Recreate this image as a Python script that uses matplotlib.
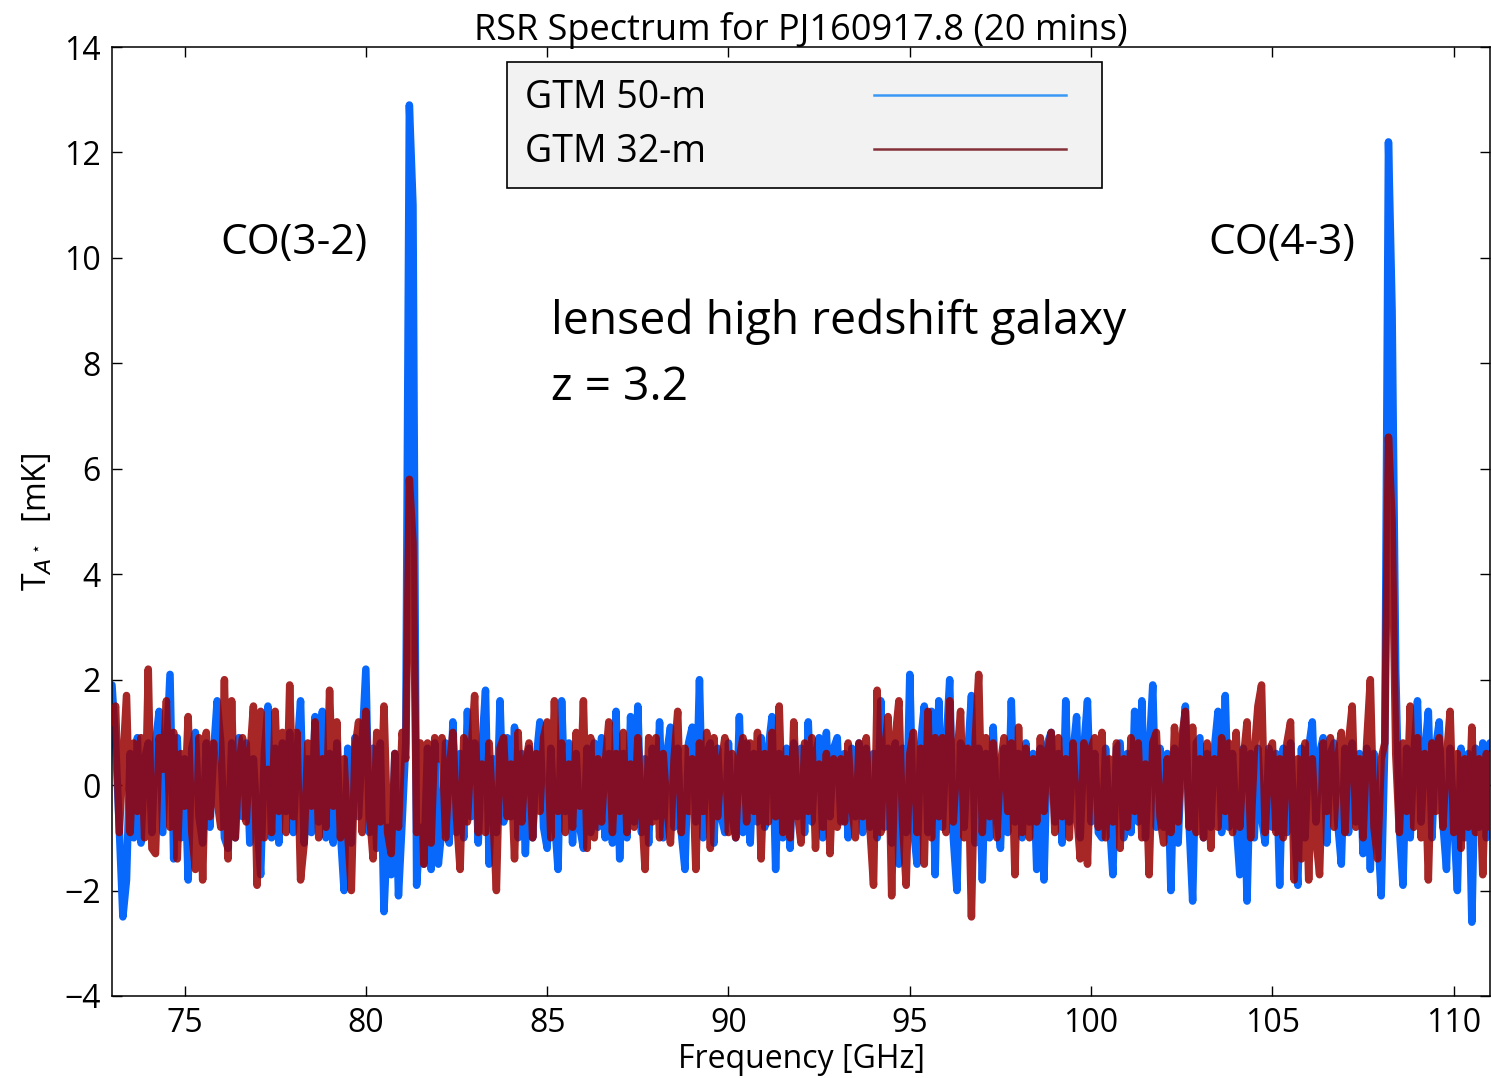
import numpy as np
import matplotlib
matplotlib.use("Agg")
import matplotlib.pyplot as plt
from matplotlib.lines import Line2D
from matplotlib.legend_handler import HandlerLine2D

# ---------------- data ----------------
f_start, f_step = 73.0, 0.1   # frequency channel grid [GHz]

# GTM 50-m antenna temperature [mK], one value per 0.1 GHz, 73.0 ... 111.0
gtm50 = [
    1.9, 0.8, -0.8, -2.5, -1.8, 0.6, -1.0, 0.9, -1.1, 0.5,      # 73
    0.8, -0.9, 0.8, 1.4, -0.9, 0.6, 2.1, -1.4, 0.9, -1.0,       # 74
    0.5, -1.8, 0.7, 1.0, -0.6, -1.1, 0.8, -0.8, 0.6, 1.6,       # 75
    0.8, -1.0, -1.2, 0.8, -1.0, 0.9, -0.6, 0.8, -1.1, 0.5,      # 76
    -0.7, -1.7, 0.6, 1.5, -1.0, 0.7, -1.1, 0.8, -0.5, 1.0,      # 77
    -0.9, 0.6, 1.6, -1.1, 0.5, -0.9, 1.3, -0.7, 1.4, -1.0,      # 78
    0.6, -1.1, 0.8, -0.9, -2.0, 0.7, -1.1, 0.9, -0.6, 0.8,      # 79
    2.2, -0.9, 0.7, -1.2, 0.8, -2.4, -0.8, -1.7, 0.6, -2.1,     # 80
    -0.7, 0.8, 12.9, 11.0, -1.9, -0.8, -1.5, 0.7, -1.6, 0.8,    # 81
    -1.5, -0.8, 0.8, -1.1, 1.2, -0.9, 0.6, -1.0, 1.4, -0.6,     # 82
    0.8, -1.1, 0.7, 1.8, -1.5, 0.5, -0.9, 1.6, -0.7, 0.9,       # 83
    -0.6, 1.1, -1.0, 0.6, -1.3, 0.7, -1.0, 0.5, 1.2, -0.8,      # 84
    -1.2, 0.7, -0.6, -1.6, 1.6, -0.5, 0.8, -1.1, 0.6, -0.8,     # 85
    -1.2, 0.7, -0.9, 0.8, -0.8, 0.9, -1.0, 0.6, -1.1, 1.4,      # 86
    -1.4, 0.6, -1.0, 1.3, -0.7, 1.5, -0.9, 0.5, -1.1, 0.7,      # 87
    -0.6, 1.2, -1.0, 0.6, 1.1, -0.8, 0.7, -0.9, -1.6, 0.8,      # 88
    1.1, -0.7, 2.0, -1.0, 0.6, 0.8, -1.1, 0.7, -0.6, -0.9,      # 89
    0.8, -0.6, -1.0, 1.3, -0.9, 0.8, -1.1, 0.6, -0.7, 0.9,      # 90
    -0.8, 0.7, 1.3, -1.6, 0.6, -1.0, 0.7, -1.2, 0.8, -0.6,      # 91
    0.7, -0.9, 1.2, -0.7, 0.6, 0.9, -1.0, 1.0, -0.6, 0.7,       # 92
    0.9, -0.7, 0.6, -1.0, 0.7, -0.6, 0.8, -0.9, 0.7, -0.8,      # 93
    0.6, -1.0, 1.6, -0.8, 0.7, -1.1, 0.8, -1.5, 0.7, -0.9,      # 94
    2.1, -0.8, -1.5, 0.8, 1.5, -0.9, 1.4, -1.7, 1.6, -0.8,      # 95
    0.7, 2.0, -1.0, -2.0, 0.8, -0.8, 0.6, 1.7, -1.1, 0.7,       # 96
    -1.8, 0.6, -1.0, 1.1, -0.6, -1.2, 0.7, -0.9, 1.6, -0.7,     # 97
    0.6, -1.0, 0.8, -0.7, 0.6, -1.6, 0.7, -1.8, 0.8, 1.0,       # 98
    -0.7, 0.6, -1.1, 1.6, -0.7, 0.6, 1.3, -1.0, 0.7, 1.6,       # 99
    -0.7, 0.6, -0.9, -1.0, 0.7, -0.6, -1.7, 0.7, 0.8, -1.0,     # 100
    0.6, -0.9, 1.4, -0.7, 1.6, -1.0, 0.6, 1.9, -0.8, 0.7,       # 101
    -0.8, 0.6, -2.0, 0.7, -1.1, 0.6, 1.5, -0.7, -2.2, 0.8,      # 102
    0.9, -1.0, 0.6, -0.8, 0.7, 1.4, -0.9, 1.7, -0.8, 0.6,       # 103
    -0.7, -1.7, 0.7, -2.2, 0.6, -1.0, 0.7, -0.6, -1.1, 0.7,     # 104
    -0.8, 0.6, -1.9, 0.7, -0.9, 0.8, -0.7, -1.9, 0.7, -1.0,     # 105
    0.7, 1.2, -0.7, 0.6, 0.9, -1.1, 0.6, 0.8, -0.7, -1.5,       # 106
    0.7, -0.9, 0.8, -0.7, 0.6, -1.3, 0.7, -1.6, 0.6, -0.8,      # 107
    -2.1, 0.8, 12.2, 9.0, 2.2, -0.8, -1.9, 0.7, -1.0, 0.6,      # 108
    1.6, -0.7, 0.6, 1.4, -1.0, 0.7, 1.2, -0.7, -1.6, 0.7,       # 109
    -0.6, -2.0, 0.7, -1.0, 0.6, -2.6, 0.7, -0.8, 0.8, -1.0,     # 110
    0.8,                                                        # 111
]

# GTM 32-m antenna temperature [mK], same channel grid
gtm32 = [
    1.2, 1.5, -0.9, 0.4, 1.7, -0.9, 0.8, -0.5, 0.9, -1.0,       # 73
    2.2, -1.2, -1.3, 0.9, 0.3, 1.6, -0.8, 1.0, -1.4, 0.6,       # 74
    -0.4, 1.3, -0.9, -1.6, 0.9, -1.8, 1.0, -0.6, 0.8, -0.3,     # 75
    -0.8, 2.0, -1.4, 1.6, -1.0, 0.4, 0.9, -0.7, 0.5, 1.5,       # 76
    -1.9, 1.4, -1.0, 0.3, -0.9, 1.4, -0.5, 1.0, -0.9, 1.9,      # 77
    -0.6, 1.0, -1.8, -1.1, 0.8, -0.4, 1.2, -1.0, 0.5, -0.8,     # 78
    1.8, -0.4, 1.2, -1.0, 0.5, -0.9, -2.0, 0.7, 1.2, -0.9,      # 79
    1.4, -0.5, -1.4, 1.0, -0.7, 1.5, -0.9, -1.3, 0.6, -0.8,     # 80
    1.0, 0.5, 5.8, 4.6, -0.9, 0.8, -1.5, 0.8, -1.1, 0.9,        # 81
    0.5, 0.9, -1.0, 0.3, 1.0, -0.6, -1.6, 0.9, -0.7, 0.6,       # 82
    1.7, -0.9, 0.4, -0.9, 0.8, -0.5, -2.0, 0.7, 0.9, -0.6,      # 83
    0.4, -1.4, 1.0, -0.7, 0.4, 0.8, -1.0, 0.6, -0.5, 0.9,       # 84
    1.2, -1.0, 1.6, -0.5, 0.8, -0.9, 0.4, -0.8, 1.0, -0.4,      # 85
    1.6, -1.2, 0.9, -1.0, 0.5, -0.7, 0.4, 1.2, -0.9, 0.6,       # 86
    -0.5, 1.0, -0.9, 0.4, -0.8, 0.9, -0.4, -1.6, 0.9, -0.7,     # 87
    0.9, -1.0, 0.6, -0.4, -1.1, 0.5, 1.4, -0.9, 0.7, -0.5,      # 88
    0.5, -1.6, 0.8, -0.5, 1.0, -1.2, 0.9, -0.6, 0.4, 0.9,       # 89
    -0.9, 0.6, -1.0, 0.5, 0.9, -0.7, 0.8, -0.5, 1.0, -1.4,      # 90
    0.6, -0.7, 1.0, -0.6, 1.5, -0.9, 0.5, -1.0, 1.2, -0.5,      # 91
    -1.1, 0.8, -0.5, 0.9, -1.2, 0.4, -0.8, 0.6, -1.3, 0.5,      # 92
    -0.8, 0.5, -0.7, 0.8, -0.4, -1.0, 0.8, -0.6, 0.9, -0.8,     # 93
    -1.9, 1.8, -0.9, 0.6, 1.3, -2.1, 0.9, 1.6, -0.7, -1.9,      # 94
    0.6, 1.0, -0.9, 0.7, -1.5, 1.4, -1.0, 0.9, -0.6, 0.9,       # 95
    -0.9, 1.6, -0.7, 0.5, 1.4, -1.0, 0.7, -2.5, 0.8, 2.1,       # 96
    -0.9, 0.9, -0.6, 0.8, -1.0, 0.4, 0.9, -0.5, 0.8, -1.7,      # 97
    1.1, -0.9, 0.7, -1.0, 0.5, -0.7, 0.9, -0.5, 0.6, 1.0,       # 98
    -0.9, 0.9, -0.6, 0.5, -1.0, 0.8, -0.5, -1.4, 0.8, -1.5,     # 99
    0.7, 0.9, -0.8, 1.0, -1.0, 0.5, -0.7, 0.8, -1.2, 0.5,       # 100
    -0.8, 0.9, -0.5, 0.8, -1.0, 0.4, -1.7, 0.8, 1.0, -0.6,      # 101
    -1.1, 0.5, -0.9, 1.1, -0.7, 0.9, 1.4, -0.8, 1.1, -0.9,      # 102
    0.5, -1.0, 0.8, -1.2, 0.5, -0.8, 0.9, -0.5, 0.8, -0.9,      # 103
    1.0, -0.8, 0.5, 1.2, -1.0, 0.6, 1.5, 1.9, -0.9, 0.5,        # 104
    0.8, -0.9, 0.5, -1.0, 0.8, 1.2, -1.8, 0.5, -1.4, 0.8,       # 105
    -1.8, 0.5, -1.0, -1.7, 0.8, -0.5, 0.9, -0.8, 0.5, 1.0,      # 106
    -0.9, 0.8, 1.5, -0.8, 0.5, -1.0, 0.8, 2.0, -0.8, -1.4,      # 107
    0.5, 0.8, 6.6, 5.0, 0.6, -0.9, 0.8, -0.5, 1.5, -0.8,        # 108
    0.9, -1.0, 0.6, -1.8, 0.8, -0.5, 0.9, -0.8, 0.5, 1.4,       # 109
    -0.9, 0.6, -1.2, 0.5, -0.8, 1.1, -0.9, 0.5, -1.7, 0.6,      # 110
    -0.8,                                                       # 111
]

series_labels = ["GTM 50-m", "GTM 32-m"]
line_labels = ["CO(3-2)", "CO(4-3)"]
x_ticks = [75, 80, 85, 90, 95, 100, 105, 110]
y_ticks = [-4, -2, 0, 2, 4, 6, 8, 10, 12, 14]

freq = f_start + f_step * np.arange(len(gtm50))

# ---------------- styling ----------------
plt.rcParams["font.family"] = ["Open Sans", "DejaVu Sans"]
blue = "#0868fb"
red = "#980000"

fig = plt.figure(figsize=(14.91, 10.78), dpi=100)
W, H = 1491, 1078
ax = fig.add_axes([112 / W, 1 - 996 / H, (1490 - 112) / W, (996 - 47) / H])

ax.plot(freq, gtm50, color=blue, lw=5.4, solid_capstyle="round",
        solid_joinstyle="round", zorder=2)
ax.plot(freq, gtm32, color=red, alpha=0.85, lw=5.4, solid_capstyle="round",
        solid_joinstyle="round", zorder=3)

ax.set_xlim(73, 111)
ax.set_ylim(-4, 14)
ax.set_xticks(x_ticks)
ax.set_yticks(y_ticks)
ax.set_yticklabels([str(t).replace("-", "\u2212") for t in y_ticks])
ax.tick_params(direction="in", length=7, width=1, top=True, right=True,
               labelsize=23, pad=8)
for s in ax.spines.values():
    s.set_linewidth(1.1)

ax.set_title("RSR Spectrum for PJ160917.8 (20 mins)", fontsize=26, pad=5)
ax.set_xlabel("Frequency [GHz]", fontsize=23, labelpad=2)
ax.set_ylabel(r"T$_{A^\star}$  [mK]", fontsize=23, labelpad=7)

# annotations
ax.text(75.99, 10.08, line_labels[0], fontsize=30.5, va="baseline", ha="left")
ax.text(103.24, 10.08, line_labels[1], fontsize=30.5, va="baseline", ha="left")
ax.text(85.11, 8.55, "lensed high redshift galaxy", fontsize=33.3, va="baseline", ha="left")
ax.text(85.11, 7.3, "z = 3.2", fontsize=33.3, va="baseline", ha="left")


class ShortLineHandler(HandlerLine2D):
    """Legend line drawn over the left part of the handle box only."""
    def create_artists(self, legend, orig_handle, xdescent, ydescent,
                       width, height, fontsize, trans):
        return super().create_artists(legend, orig_handle, xdescent, ydescent,
                                      width * 0.913, height, fontsize, trans)


handles = [Line2D([], [], color="#3a98f5", lw=1.8),
           Line2D([], [], color="#843038", lw=1.8)]
leg = ax.legend(handles, series_labels, loc="upper left",
                bbox_to_anchor=(0.287, 0.984), markerfirst=False,
                fontsize=27, handlelength=5.6, handletextpad=4.5,
                borderpad=0.46, labelspacing=0.42, fancybox=False,
                framealpha=1, facecolor="#f2f2f2", edgecolor="black",
                borderaxespad=0,
                handler_map={Line2D: ShortLineHandler()})
leg.get_frame().set_linewidth(1.2)

fig.savefig("out.png", dpi=100)
